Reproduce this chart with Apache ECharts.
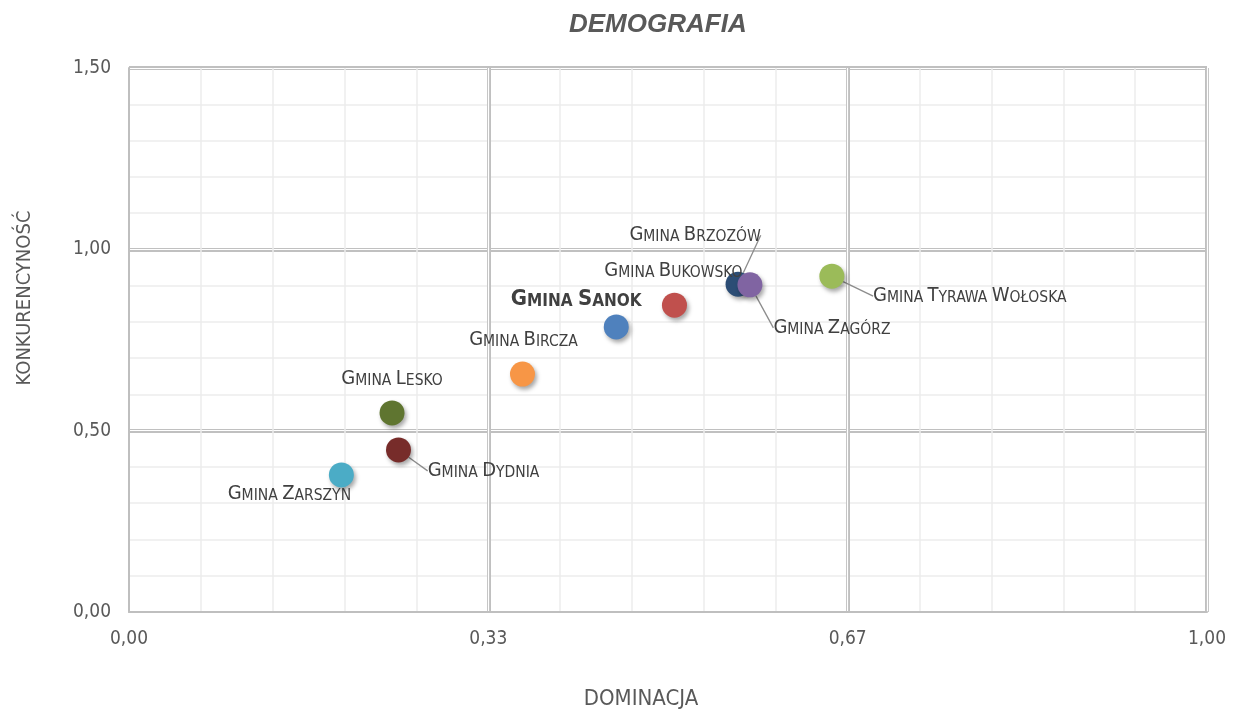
<!DOCTYPE html>
<html><head><meta charset="utf-8">
<script src="https://cdn.jsdelivr.net/npm/echarts@6/dist/echarts.min.js"></script>
<style>html,body{margin:0;padding:0;background:#fff}#c{width:1238px;height:710px}</style>
</head><body><div id="c"></div>
<script>
const names = ['Gmina Zarszyn','Gmina Dydnia','Gmina Lesko','Gmina Bircza','Gmina Sanok','Gmina Bukowsko','Gmina Brzozów','Gmina Zagórz','Gmina Tyrawa Wołoska'];
const dominacja = [0.197, 0.250, 0.244, 0.365, 0.452, 0.506, 0.565, 0.576, 0.652];
const konkurencyjnosc = [0.378, 0.447, 0.549, 0.656, 0.786, 0.846, 0.904, 0.902, 0.926];
const colors = ['#4BACC6','#772C2A','#5F7530','#F79646','#4F81BD','#C0504D','#2C4D75','#8064A2','#9BBB59'];
const xTicks = ['0,00','0,33','0,67','1,00'];
const yTicks = ['0,00','0,50','1,00','1,50'];

const NARROW = "'Liberation Sans Narrow','Arial Narrow','DejaVu Sans Condensed',sans-serif";
const layout = [
  {dx:-52, dy:18, line:false},
  {dx:85, dy:20, line:true},
  {dx:0, dy:-35, line:false},
  {dx:1, dy:-35, line:false},
  {dx:-40, dy:-29, line:false, bold:true},
  {dx:-1, dy:-35, line:false},
  {dx:-43, dy:-50, line:true},
  {dx:82, dy:42, line:true},
  {dx:138, dy:19, line:true}
];
function smallCaps(name, bold){
  const B = bold ? 'B' : 'b', S = bold ? 'S' : 's';
  return name.split(' ').map(w => '{'+B+'|'+w[0].toUpperCase()+'}' + (w.length>1 ? '{'+S+'|'+w.slice(1).toUpperCase()+'}' : '')).join('{'+S+'| }');
}
const rich = {
  b:{fontFamily:NARROW,fontSize:20,color:'#404040',verticalAlign:'bottom',lineHeight:22},
  s:{fontFamily:NARROW,fontSize:15.5,color:'#404040',verticalAlign:'bottom',lineHeight:22},
  B:{fontFamily:NARROW,fontSize:22,fontWeight:'bold',color:'#404040',verticalAlign:'bottom',lineHeight:25},
  S:{fontFamily:NARROW,fontSize:17,fontWeight:'bold',color:'#404040',verticalAlign:'bottom',lineHeight:25}
};
const series = names.map((n,i)=>({
  type:'scatter', name:n, xAxisIndex:1, yAxisIndex:1, symbolSize:25,
  itemStyle:{color:colors[i], opacity:1, shadowBlur:4, shadowOffsetX:2, shadowOffsetY:3, shadowColor:'rgba(0,0,0,0.35)'},
  data:[[dominacja[i], konkurencyjnosc[i]]],
  label:{show:true, position:'inside', formatter:()=>smallCaps(n, layout[i].bold), rich:rich},
  labelLayout:{dx:layout[i].dx, dy:layout[i].dy, hideOverlap:false, moveOverlap:false},
  labelLine:{show:layout[i].line, lineStyle:{color:'#8c8c8c', width:1.3}},
  emphasis:{disabled:true},
  z: layout[i].bold ? 4 : 2
}));
const mk = (isX, interval, style, main, minor) => ({
  type:'value', min:0, max: isX ? 1 : 1.5, interval: interval,
  position: isX ? 'bottom' : 'left',
  axisLine:{show:!!main, lineStyle:{color:'#bfbfbf', width:2}},
  axisTick:{show:false},
  axisLabel:{show:!!main, color:'#595959', fontFamily:NARROW, fontSize:19, margin: 18,
    formatter: v => { const t = isX ? xTicks : yTicks; const k = Math.round(isX ? v*3 : v*2); return t[k]; }},
  splitLine:{show:true, showMinLine:!!minor, lineStyle:style},
  name: main ? (isX ? 'DOMINACJA' : 'KONKURENCYNOŚĆ') : '',
  nameLocation:'middle', nameGap: isX ? 76 : 94,
  nameTextStyle: isX
    ? {color:'#595959', fontFamily:NARROW, fontSize:22, padding:[0,54,0,0]}
    : {color:'#595959', fontFamily:NARROW, fontSize:20, padding:[0,0,0,84]}
});
const option = {
  animation:false,
  title:{text:'DEMOGRAFIA', left:564, top:7, textStyle:{fontFamily:"'Liberation Sans',Arial,sans-serif", fontSize:26, fontWeight:'bold', fontStyle:'italic', color:'#595959'}},
  grid:{left:129, right:31, top:68, bottom:98, containLabel:false, outerBoundsMode:'none'},
  xAxis:[
    mk(true, 1/15, {color:'#ededed', width:1.5}, false, true),
    mk(true, 1/3, {color:'#c0c0c0', width:4}, true, false),
    mk(true, 1/3, {color:'#ffffff', width:1.2}, false, false)
  ],
  yAxis:[
    mk(false, 0.1, {color:'#ededed', width:1.5}, false, true),
    mk(false, 0.5, {color:'#c0c0c0', width:4}, true, false),
    mk(false, 0.5, {color:'#ffffff', width:1.2}, false, false)
  ],
  series: series
};
const chart = echarts.init(document.getElementById('c'));
chart.setOption(option);
</script></body></html>
